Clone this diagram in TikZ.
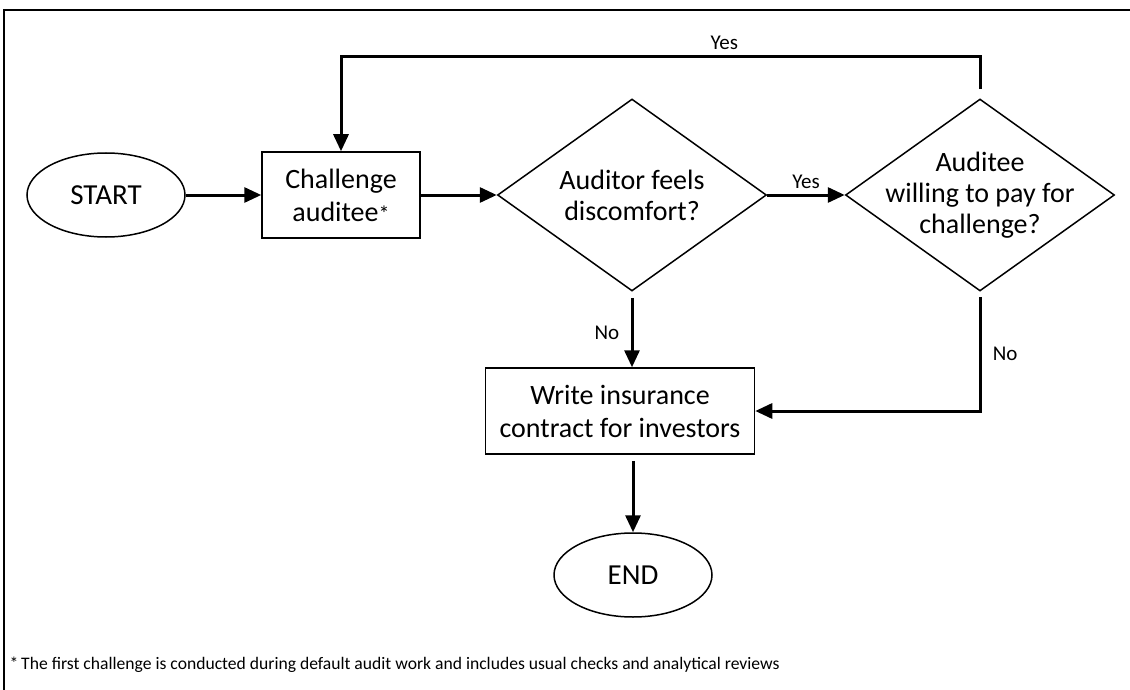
\documentclass[tikz,border=0pt]{standalone}
\usepackage{fontspec}
\setmainfont{Carlito}
\usetikzlibrary{shapes.geometric,arrows.meta}

\begin{document}
\begin{tikzpicture}[x=1pt,y=-1pt,
  terminal/.style={ellipse, draw, line width=1.5pt, minimum width=158pt,
    minimum height=84pt, inner sep=0pt, font=\fontsize{29}{33}\selectfont},
  process/.style={rectangle, draw, line width=1.5pt, minimum height=86pt,
    align=center, font=\fontsize{28}{33}\selectfont},
  decision/.style={diamond, draw, line width=1.5pt, minimum width=269pt,
    minimum height=192pt, inner sep=-60pt, align=center,
    font=\fontsize{28}{31}\selectfont},
  flow/.style={line width=3pt, -{Triangle[length=17pt,width=15pt]}},
  answer/.style={font=\fontsize{21}{24}\selectfont}]
  \useasboundingbox (0,0) rectangle (1130,690);
  % frame, cut off at right and bottom
  \draw[line width=1.8pt] (4,690) -- (4,10) -- (1130,10);

  \node[terminal] (start) at (106,195) {START};
  \node[process, minimum width=158pt] (challenge) at (341,195)
    {Challenge\\auditee{\fontsize{22}{22}\selectfont*}};
  \node[decision] (discomfort) at (632,195) {Auditor feels\\discomfort?};
  \node[decision] (pay) at (980,195) {Auditee\\willing to pay for\\challenge?};
  \node[process, minimum width=269pt] (insure) at (620,411)
    {Write insurance\\contract for investors};
  \node[terminal] (end) at (633,575) {END};
  \coordinate (loop) at (980,57);

  \draw[flow] (start) -- (challenge);
  \draw[flow] (challenge) -- (discomfort);
  \draw[flow] (discomfort) -- node[answer, above=2pt] {Yes} (pay);
  \draw[flow] ([yshift=9pt]pay.north) -- (loop)
    -| node[answer, above=3pt, pos=0.2] {Yes} (challenge.north);
  \draw[flow] ([yshift=-6pt]discomfort.south)
    -- node[answer, left=8pt] {No} (discomfort.south |- insure.north);
  \draw[flow] ([yshift=-5pt]pay.south)
    |- node[answer, right=8pt, pos=0.25] {No} (insure.east);
  \draw[flow] ([yshift=-6pt]end.north |- insure.south) -- (end.north);

  \node[anchor=west, font=\fontsize{17.6}{22}\selectfont] (note) at (6,665)
    {*\,The first challenge is conducted during default audit work and includes usual checks and analytical reviews};
\end{tikzpicture}
\end{document}
